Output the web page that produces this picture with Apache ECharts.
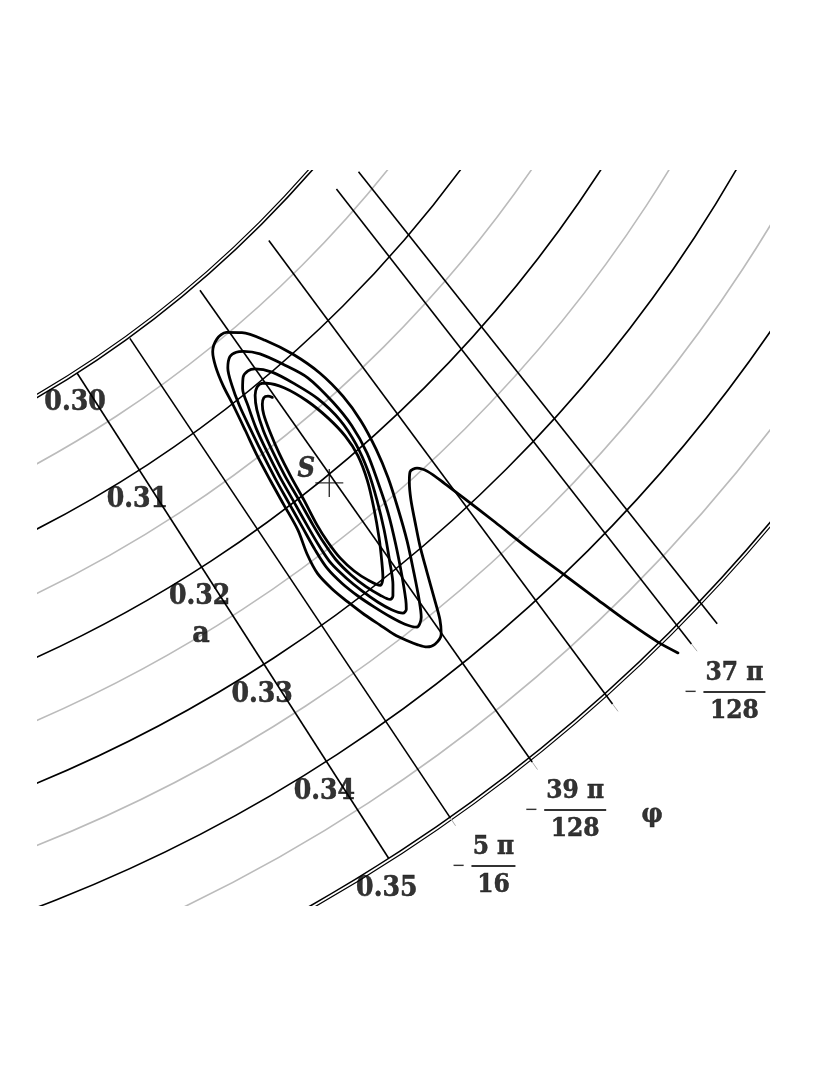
<!DOCTYPE html>
<html>
<head>
<meta charset="utf-8">
<title>Trajectory near S in (a, φ)</title>
<script src="https://cdn.jsdelivr.net/npm/echarts@6/dist/echarts.min.js"></script>
<style>
  html, body { margin: 0; padding: 0; background: #fff; }
  #page { position: relative; width: 830px; height: 1075px; }
  #chart { position: absolute; left: 37px; top: 170px; width: 733px; height: 736px; }
</style>
</head>
<body>
<div id="page"><div id="chart"></div></div>
<script>
// amplitude ticks on the phi = -1 edge
const aTicks = [0.30, 0.31, 0.32, 0.33, 0.34, 0.35];
const aRange = [0.30, 0.35];
// constant-phase lines: region edges and grid
const phiLines = [-1, -40 * Math.PI / 128, -39 * Math.PI / 128, -38 * Math.PI / 128, -37 * Math.PI / 128, -0.9];
const phiTicks = [-40 * Math.PI / 128, -39 * Math.PI / 128, -38 * Math.PI / 128, -37 * Math.PI / 128];
// labelled phases
const phiLabelValues = [-5 * Math.PI / 16, -39 * Math.PI / 128, -37 * Math.PI / 128];
const phiLabelNums = ['5 π', '39 π', '37 π'];
const phiLabelDens = ['16', '128', '128'];
// stationary point S  [a, phi]
const pointS = [0.3201, -0.9586];
// trajectory  [a, phi]
const trajectory = [
  // incoming branch
  [0.3499, -0.9121], [0.3481, -0.9144], [0.3451, -0.9173], [0.3417, -0.9202], [0.3383, -0.9231],
  [0.3348, -0.9262], [0.3313, -0.9290], [0.3278, -0.9320], [0.3260, -0.9336], [0.3243, -0.9353],
  [0.3235, -0.9371], [0.3234, -0.9392], [0.3241, -0.9410], [0.3254, -0.9434], [0.3272, -0.9460],
  [0.3291, -0.9486], [0.3313, -0.9511], [0.3335, -0.9535], [0.3353, -0.9555], [0.3364, -0.9574],
  [0.3368, -0.9602], [0.3366, -0.9623],
  // turn 1
  [0.3360, -0.9639], [0.3351, -0.9657], [0.3341, -0.9674], [0.3327, -0.9691], [0.3312, -0.9709],
  [0.3295, -0.9726], [0.3278, -0.9741], [0.3260, -0.9750], [0.3241, -0.9744], [0.3219, -0.9728],
  [0.3194, -0.9721], [0.3170, -0.9714], [0.3145, -0.9705], [0.3122, -0.9693], [0.3098, -0.9681],
  [0.3079, -0.9673], [0.3062, -0.9660], [0.3050, -0.9643], [0.3043, -0.9612], [0.3043, -0.9580],
  [0.3051, -0.9544], [0.3068, -0.9503], [0.3092, -0.9462], [0.3119, -0.9432], [0.3147, -0.9418],
  [0.3173, -0.9418], [0.3201, -0.9430], [0.3227, -0.9449], [0.3254, -0.9476], [0.3281, -0.9506],
  [0.3307, -0.9540], [0.3329, -0.9570], [0.3342, -0.9591], [0.3347, -0.9615],
  // turn 2
  [0.3339, -0.9636], [0.3326, -0.9657], [0.3311, -0.9677], [0.3296, -0.9695], [0.3279, -0.9711],
  [0.3261, -0.9721], [0.3242, -0.9720], [0.3220, -0.9714], [0.3195, -0.9707], [0.3171, -0.9700],
  [0.3146, -0.9690], [0.3123, -0.9679], [0.3101, -0.9667], [0.3083, -0.9652], [0.3069, -0.9634],
  [0.3062, -0.9611], [0.3062, -0.9589], [0.3065, -0.9571],
  [0.3075, -0.9537], [0.3094, -0.9501], [0.3116, -0.9467], [0.3146, -0.9450], [0.3172, -0.9446],
  [0.3199, -0.9456], [0.3225, -0.9478], [0.3252, -0.9504], [0.3278, -0.9536], [0.3303, -0.9570],
  [0.3322, -0.9598], [0.3329, -0.9611], [0.3330, -0.9624],
  // turn 3
  [0.3322, -0.9643], [0.3310, -0.9661], [0.3294, -0.9679], [0.3277, -0.9694], [0.3259, -0.9705],
  [0.3241, -0.9705], [0.3222, -0.9701], [0.3197, -0.9694], [0.3172, -0.9687], [0.3148, -0.9677],
  [0.3126, -0.9665], [0.3106, -0.9648], [0.3091, -0.9633], [0.3083, -0.9613], [0.3081, -0.9592],
  [0.3083, -0.9573],
  [0.3094, -0.9539], [0.3114, -0.9506], [0.3136, -0.9478], [0.3162, -0.9463], [0.3187, -0.9466],
  [0.3212, -0.9482], [0.3237, -0.9508], [0.3262, -0.9539], [0.3287, -0.9575], [0.3305, -0.9603],
  [0.3313, -0.9620], [0.3314, -0.9631],
  // turn 4
  [0.3306, -0.9646], [0.3293, -0.9664], [0.3277, -0.9679], [0.3259, -0.9689], [0.3241, -0.9690],
  [0.3223, -0.9687], [0.3198, -0.9680], [0.3174, -0.9674], [0.3151, -0.9664], [0.3131, -0.9652],
  [0.3113, -0.9634], [0.3102, -0.9615], [0.3097, -0.9597], [0.3097, -0.9579], [0.3099, -0.9570],
  [0.3111, -0.9537], [0.3132, -0.9506], [0.3155, -0.9486], [0.3176, -0.9477], [0.3196, -0.9480],
  [0.3218, -0.9498], [0.3241, -0.9527], [0.3265, -0.9562], [0.3283, -0.9592], [0.3295, -0.9614],
  [0.3299, -0.9631],
  // last half turn
  [0.3289, -0.9650], [0.3276, -0.9666], [0.3260, -0.9677], [0.3242, -0.9680], [0.3225, -0.9678],
  [0.3201, -0.9669], [0.3178, -0.9662], [0.3155, -0.9652], [0.3135, -0.9639], [0.3120, -0.9626],
  [0.3112, -0.9613], [0.3108, -0.9599], [0.3109, -0.9587], [0.3112, -0.9579]
];

const PX = 11540;            // pixels per unit of a
const serif = "'DejaVu Serif Condensed', 'DejaVu Serif', serif";
const arcCenter = [-557.0, -726.9];
const arcR0 = 1105;

const chart = echarts.init(document.getElementById('chart'));

const textBase = {
  color: '#000', fontFamily: serif, fontWeight: 'bold',
  textBorderColor: '#000', textBorderWidth: 0.5
};

function fracRich(w) {
  return {
    sp: { width: 26 },
    minus: { width: 26, align: 'center', fontSize: 18, lineHeight: 8, fontFamily: serif, color: '#000' },
    num: Object.assign({ width: w, align: 'center', fontSize: 26, lineHeight: 30 }, textBase),
    bar: { width: w, height: 2, lineHeight: 8, backgroundColor: '#000' }
  };
}

const fracData = phiLabelValues.map((phi, i) => ({
  value: [aRange[1], phi],
  label: {
    formatter: '{sp| }{num|' + phiLabelNums[i] + '}\n{minus|−}{bar| }\n{sp| }{num|' + phiLabelDens[i] + '}',
    rich: fracRich(phiLabelDens[i].length > 2 ? 62 : 44)
  }
}));

const gridLines = phiLines.map(phi => ({
  type: 'line', coordinateSystem: 'polar', polarIndex: 0,
  data: aRange.map(a => [a, phi]),
  symbol: 'none', silent: true, z: 3,
  lineStyle: { color: '#000', width: 1.6 }
}));

const tickLines = phiTicks.map(phi => ({
  type: 'line', coordinateSystem: 'polar', polarIndex: 0,
  data: [[aRange[1], phi], [aRange[1] + 0.0008, phi]],
  symbol: 'none', silent: true, z: 3,
  lineStyle: { color: '#aaa', width: 1 }
}));

const option = {
  animation: false,
  backgroundColor: '#fff',
  polar: [
    { center: [-1830.5, -2710.2], radius: [0, 0.4 * PX] },
    { center: arcCenter, radius: [arcR0, arcR0 + 0.05 * PX] },
    { center: arcCenter, radius: [arcR0 - 3, arcR0 + 3 + 0.05 * PX] }
  ],
  angleAxis: [
    { polarIndex: 0, type: 'value', min: -Math.PI, max: Math.PI, startAngle: 180, clockwise: false, show: false },
    { polarIndex: 1, type: 'value', show: false },
    {
      polarIndex: 2, type: 'value',
      axisLine: { show: true, lineStyle: { color: '#000', width: 1.2 } },
      axisTick: { show: false }, axisLabel: { show: false }, splitLine: { show: false }
    }
  ],
  radiusAxis: [
    { polarIndex: 0, type: 'value', min: 0, max: 0.4, show: false },
    {
      polarIndex: 1, type: 'value', min: 0.30, max: 0.35, interval: 0.005,
      axisLine: { show: false }, axisTick: { show: false }, axisLabel: { show: false },
      splitLine: { show: true, lineStyle: { color: ['#000', '#bbb'], width: 1.6 } }
    },
    { polarIndex: 2, type: 'value', min: 0, max: 1, show: false }
  ],
  series: [
    ...gridLines,
    ...tickLines,
    {
      name: 'trajectory',
      type: 'line', coordinateSystem: 'polar', polarIndex: 0,
      data: trajectory,
      symbol: 'none', smooth: 0.3, silent: true, z: 4,
      lineStyle: { color: '#000', width: 2.8, cap: 'round', join: 'round' }
    },
    {
      // a tick labels
      type: 'scatter', coordinateSystem: 'polar', polarIndex: 0,
      data: aTicks.map(a => [a, phiLines[0]]),
      symbolSize: 0, silent: true, z: 5,
      label: Object.assign({
        show: true, position: 'inside', offset: [-2, 30],
        formatter: p => p.value[0].toFixed(2), fontSize: 28
      }, textBase)
    },
    {
      // axis name a
      type: 'scatter', coordinateSystem: 'polar', polarIndex: 0,
      data: [[0.325, phiLines[0]]],
      symbolSize: 0, silent: true, z: 5,
      label: Object.assign({
        show: true, position: 'inside', offset: [-32, 18], formatter: 'a', fontSize: 30
      }, textBase)
    },
    {
      // phase labels
      type: 'scatter', coordinateSystem: 'polar', polarIndex: 0,
      data: fracData,
      symbolSize: 0, silent: true, z: 5,
      label: { show: true, position: 'inside', offset: [30, 48] }
    },
    {
      // axis name phi
      type: 'scatter', coordinateSystem: 'polar', polarIndex: 0,
      data: [[aRange[1], phiLabelValues[1]]],
      symbolSize: 0, silent: true, z: 5,
      label: Object.assign({
        show: true, position: 'inside', offset: [120, 53], formatter: 'φ', fontSize: 26
      }, textBase)
    },
    {
      // stationary point S
      type: 'scatter', coordinateSystem: 'polar', polarIndex: 0,
      data: [pointS],
      symbol: 'path://M0,13.3 L28,13.3 L28,14.7 L0,14.7 Z M13.3,0 L14.7,0 L14.7,28 L13.3,28 Z',
      symbolSize: 28, silent: true, z: 5,
      itemStyle: { color: '#000' },
      label: Object.assign({
        show: true, position: 'inside', offset: [-23, -13], formatter: 'S',
        fontStyle: 'italic', fontSize: 27
      }, textBase)
    }
  ]
};

chart.setOption(option);
window.addEventListener('resize', () => chart.resize());
</script>
</body>
</html>
